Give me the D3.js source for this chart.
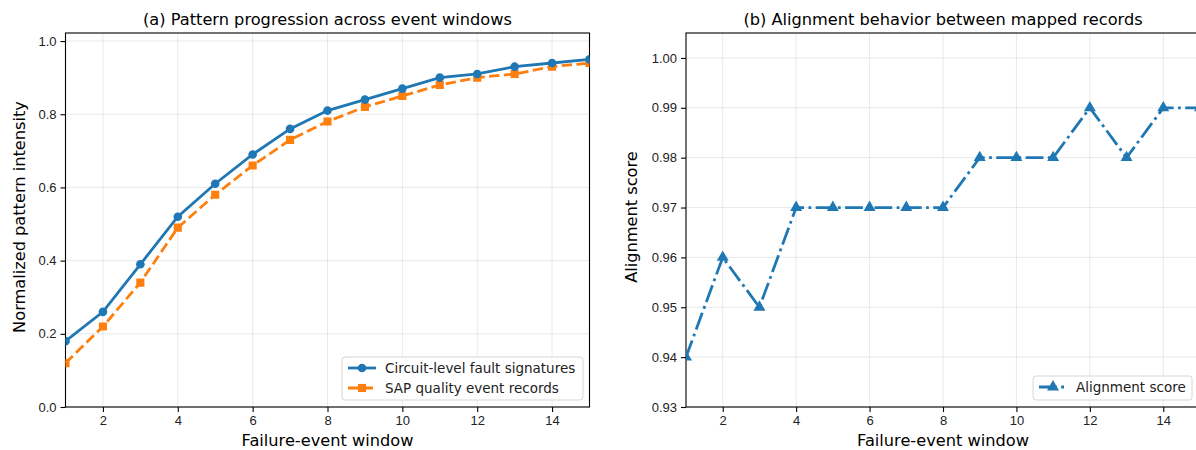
<!DOCTYPE html>
<html>
<head>
<meta charset="utf-8">
<script src="https://cdn.jsdelivr.net/npm/d3@7"></script>
<style>
  body { margin: 0; background: #fff; }
  svg { font-family: "DejaVu Sans", sans-serif; }
  .tick text { font-size: 13px; fill: #222; }
</style>
</head>
<body>
<svg id="chart" width="1196" height="450"></svg>
<script>
// data
var windows = [1, 2, 3, 4, 5, 6, 7, 8, 9, 10, 11, 12, 13, 14, 15];
var circuitSignatures = [0.18, 0.26, 0.39, 0.52, 0.61, 0.69, 0.76, 0.81, 0.84, 0.87, 0.90, 0.91, 0.93, 0.94, 0.95];
var sapRecords = [0.12, 0.22, 0.34, 0.49, 0.58, 0.66, 0.73, 0.78, 0.82, 0.85, 0.88, 0.90, 0.91, 0.93, 0.94];
var alignment = [0.94, 0.96, 0.95, 0.97, 0.97, 0.97, 0.97, 0.97, 0.98, 0.98, 0.98, 0.99, 0.98, 0.99, 0.99];
var xTicks = [2, 4, 6, 8, 10, 12, 14];
var leftYTicks = [0.0, 0.2, 0.4, 0.6, 0.8, 1.0];
var rightYTicks = [0.93, 0.94, 0.95, 0.96, 0.97, 0.98, 0.99, 1.00];

var blue = "#1f77b4", orange = "#ff7f0e";
var svg = d3.select("#chart");

function makePanel(opt) {
    var x = d3.scaleLinear().domain([1, 15]).range([opt.x0, opt.x1]);
    var y = d3.scaleLinear().domain(opt.yDomain).range([opt.y1, opt.y0]);
    var g = svg.append("g");

    // clip path for data
    g.append("clipPath").attr("id", opt.id)
        .append("rect")
        .attr("x", opt.x0).attr("y", opt.y0)
        .attr("width", opt.x1 - opt.x0).attr("height", opt.y1 - opt.y0);

    // grid
    g.append("g").selectAll("line.gx").data(xTicks).enter().append("line")
        .attr("x1", d => x(d)).attr("x2", d => x(d))
        .attr("y1", opt.y0).attr("y2", opt.y1)
        .style("stroke", "#b0b0b0").style("stroke-opacity", 0.35).style("stroke-width", 0.8);
    g.append("g").selectAll("line.gy").data(opt.yTicks).enter().append("line")
        .attr("x1", opt.x0).attr("x2", opt.x1)
        .attr("y1", d => y(d)).attr("y2", d => y(d))
        .style("stroke", "#b0b0b0").style("stroke-opacity", 0.35).style("stroke-width", 0.8);

    // axes
    var xAxis = d3.axisBottom(x).tickValues(xTicks).tickSize(5).tickPadding(4).tickFormat(d3.format("d"));
    var yAxis = d3.axisLeft(y).tickValues(opt.yTicks).tickSize(5).tickPadding(4).tickFormat(opt.yFormat);
    g.append("g").attr("transform", "translate(0," + opt.y1 + ")").call(xAxis)
        .call(a => a.select(".domain").remove());
    g.append("g").attr("transform", "translate(" + opt.x0 + ",0)").call(yAxis)
        .call(a => a.select(".domain").remove());
    g.selectAll(".tick line").style("stroke", "#000").style("stroke-width", 1.1);

    // frame
    g.append("rect")
        .attr("x", opt.x0).attr("y", opt.y0)
        .attr("width", opt.x1 - opt.x0).attr("height", opt.y1 - opt.y0)
        .style("fill", "none").style("stroke", "#000").style("stroke-width", 1.1);

    // labels
    g.append("text").attr("x", (opt.x0 + opt.x1) / 2).attr("y", 25)
        .attr("text-anchor", "middle").style("font-size", "16.2px").text(opt.title);
    g.append("text").attr("x", (opt.x0 + opt.x1) / 2).attr("y", 446)
        .attr("text-anchor", "middle").style("font-size", "16.2px").text("Failure-event window");
    g.append("text")
        .attr("transform", "translate(" + opt.yLabelX + "," + ((opt.y0 + opt.y1) / 2 - 3) + ") rotate(-90)")
        .attr("text-anchor", "middle").style("font-size", "16.2px").text(opt.yLabel);

    return { x: x, y: y, g: g };
}

function drawSeries(panel, values, s, clipId) {
    var data = windows.map((w, i) => ({ w: w, v: values[i] }));
    var line = d3.line().x(d => panel.x(d.w)).y(d => panel.y(d.v));
    var sg = panel.g.append("g").attr("clip-path", "url(#" + clipId + ")");
    sg.append("path").datum(data).attr("d", line)
        .style("fill", "none").style("stroke", s.color).style("stroke-width", 2.8)
        .style("stroke-dasharray", s.dash);
    sg.selectAll("path.m").data(data).enter().append("path")
        .attr("transform", d => "translate(" + panel.x(d.w) + "," + panel.y(d.v) + ")")
        .attr("d", d3.symbol().type(s.symbol).size(s.size))
        .style("fill", s.color);
}

function drawLegend(panel, items, box) {
    var lg = panel.g.append("g");
    lg.append("rect").attr("x", box.x).attr("y", box.y).attr("width", box.w).attr("height", box.h)
        .attr("rx", 3).style("fill", "#fff").style("fill-opacity", 0.8)
        .style("stroke", "#d6d6d6").style("stroke-width", 1);
    items.forEach(function (it, i) {
        var cy = box.y + 11 + i * 20;
        var lx0 = box.x + 6, lx1 = box.x + 34;
        lg.append("line").attr("x1", lx0).attr("x2", lx1).attr("y1", cy).attr("y2", cy)
            .style("stroke", it.color).style("stroke-width", 2.8).style("stroke-dasharray", it.dash);
        lg.append("path").attr("transform", "translate(" + (lx0 + lx1) / 2 + "," + cy + ")")
            .attr("d", d3.symbol().type(it.symbol).size(it.size)).style("fill", it.color);
        lg.append("text").attr("x", box.x + 43).attr("y", cy + 5)
            .style("font-size", "13.5px").style("fill", "#222").text(it.label);
    });
}

// (a)
var left = makePanel({
    id: "clipA", x0: 65.5, x1: 589.5, y0: 33, y1: 407, yDomain: [0, 1.022],
    yTicks: leftYTicks, yFormat: d3.format(".1f"),
    title: "(a) Pattern progression across event windows",
    yLabel: "Normalized pattern intensity", yLabelX: 25
});
var sA = { color: blue, dash: null, symbol: d3.symbolCircle, size: 58, label: "Circuit-level fault signatures" };
var sB = { color: orange, dash: "10.3,4.4", symbol: d3.symbolSquare, size: 66, label: "SAP quality event records" };
drawSeries(left, sapRecords, sB, "clipA");
drawSeries(left, circuitSignatures, sA, "clipA");
drawLegend(left, [sA, sB], { x: 342, y: 357, w: 241, h: 43 });

// (b)
var right = makePanel({
    id: "clipB", x0: 686, x1: 1200, y0: 33, y1: 407, yDomain: [0.93, 1.005],
    yTicks: rightYTicks, yFormat: d3.format(".2f"),
    title: "(b) Alignment behavior between mapped records",
    yLabel: "Alignment score", yLabelX: 637
});
var sC = { color: blue, dash: "17.8,4.4,2.8,4.4", symbol: d3.symbolTriangle, size: 62, label: "Alignment score" };
drawSeries(right, alignment, sC, "clipB");
drawLegend(right, [sC], { x: 1033, y: 376, w: 159, h: 24 });
</script>
</body>
</html>
